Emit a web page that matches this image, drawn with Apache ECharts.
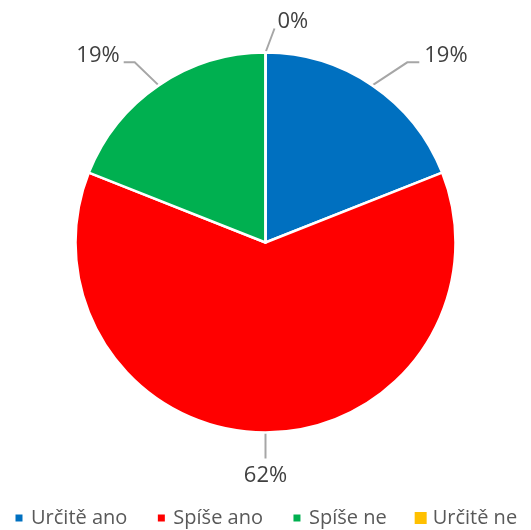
<!DOCTYPE html>
<html>
<head>
<meta charset="utf-8">
<script src="https://cdn.jsdelivr.net/npm/echarts@6/dist/echarts.min.js"></script>
<style>
  html, body { margin: 0; padding: 0; background: #fff; }
  #chart { width: 531px; height: 530px; }
</style>
</head>
<body>
<div id="chart"></div>
<script>
// Answer categories and their shares in percent
const categories = ['Určitě ano', 'Spíše ano', 'Spíše ne', 'Určitě ne'];
const shares = [19, 62, 19, 0];
const colors = ['#0070C0', '#FF0000', '#00B050', '#FFC000'];

const chart = echarts.init(document.getElementById('chart'));
const fontFamily = '"Open Sans", "Noto Sans", sans-serif';

// small square centred in the legend box; the last entry uses a full square
const smallSquare = 'path://M0,0M14,14M2.5,2.5h9v9h-9z';
const fullSquare = 'path://M0,0h14v14h-14z';

// leader line shapes (offsets from the slice edge), per slice
const leaders = [
  { bend: [35, -23], tail: 12 },   // right
  { bend: [0, 26], tail: 0 },      // bottom
  { bend: [-24, -23], tail: -11 }, // left
  { bend: [9, -24], tail: 0 }      // top
];

chart.setOption({
  animation: false,
  color: colors,
  legend: {
    data: categories.map((name, i) => ({
      name,
      icon: i === categories.length - 1 ? fullSquare : smallSquare
    })),
    left: 11,
    top: 508,
    padding: 0,
    itemWidth: 14,
    itemHeight: 14,
    itemGap: 26,
    textStyle: { fontFamily, fontSize: 20, color: '#595959' }
  },
  series: [{
    type: 'pie',
    center: [265.5, 242.5],
    radius: 190,
    startAngle: 90,
    clockwise: true,
    avoidLabelOverlap: false,
    itemStyle: { borderColor: '#fff', borderWidth: 2.5 },
    label: {
      show: true,
      position: 'outside',
      formatter: '{c}%',
      fontFamily,
      fontSize: 22,
      color: '#404040'
    },
    labelLine: {
      show: true,
      length: 30,
      length2: 12,
      lineStyle: { color: '#A6A6A6', width: 2 }
    },
    labelLayout(params) {
      const p = params.labelLinePoints;
      if (!p) return {};
      const a = p[0];
      const L = leaders[params.dataIndex];
      const b = [a[0] + L.bend[0], a[1] + L.bend[1]];
      const c = [b[0] + L.tail, b[1]];
      if (params.dataIndex === 1) {
        return {
          x: c[0], y: c[1] + 17, align: 'center', verticalAlign: 'middle',
          labelLinePoints: [a, b, c]
        };
      }
      if (params.dataIndex === 3) {
        return {
          x: c[0] + 3, y: c[1] - 6.5, align: 'left', verticalAlign: 'middle',
          labelLinePoints: [a, b, c]
        };
      }
      const right = L.tail > 0;
      return {
        x: c[0] + (right ? 5 : -4), y: c[1] - 6.5,
        align: right ? 'left' : 'right', verticalAlign: 'middle',
        labelLinePoints: [a, b, c]
      };
    },
    emphasis: { disabled: true },
    data: categories.map((name, i) => ({ name, value: shares[i] }))
  }]
});
</script>
</body>
</html>
